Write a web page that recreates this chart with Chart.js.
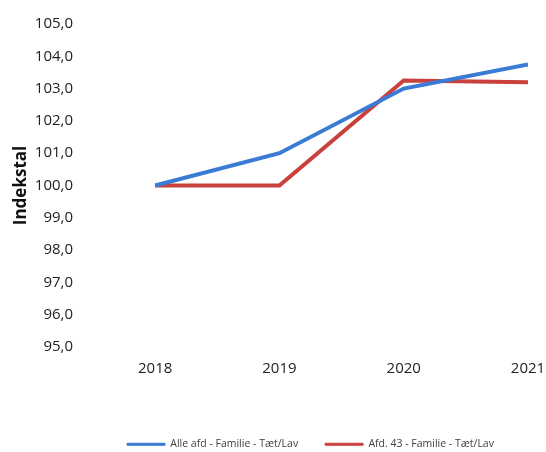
<!DOCTYPE html>
<html>
<head>
<meta charset="utf-8">
<script src="https://cdn.jsdelivr.net/npm/chart.js@4"></script>
<style>
  html, body { margin: 0; padding: 0; background: #fff; }
  #wrap { width: 546px; height: 452px; }
</style>
</head>
<body>
<div id="wrap"><canvas id="chart" width="546" height="452"></canvas></div>
<script>
// data
const years = [2018, 2019, 2020, 2021];
const alleAfd = [100.0, 101.0, 103.0, 103.75];
const afd43 = [100.0, 100.0, 103.25, 103.2];
const seriesNames = ['Alle afd - Familie - Tæt/Lav', 'Afd. 43 - Familie - Tæt/Lav'];
const yTicks = [95, 96, 97, 98, 99, 100, 101, 102, 103, 104, 105];

const blue = '#3a7bd5';
const red = '#c9403c';
const font = "'Open Sans', 'Noto Sans', sans-serif";

const toPoints = arr => arr.map((v, i) => ({ x: years[i], y: v }));

// legend keeps its wide item spacing but a shorter box
const legendHeight = {
    id: 'legendHeight',
    beforeLayout(chart) {
        const lg = chart.legend;
        if (lg && !lg._patched) {
            const fit = lg.fit;
            lg.fit = function () { fit.call(this); this.height = 40; };
            lg._patched = true;
        }
    }
};

new Chart(document.getElementById('chart'), {
    type: 'line',
    data: {
        datasets: [
            { label: seriesNames[0], data: toPoints(alleAfd), borderColor: blue, backgroundColor: blue, borderWidth: 4, pointRadius: 0, tension: 0 },
            { label: seriesNames[1], data: toPoints(afd43), borderColor: red, backgroundColor: red, borderWidth: 4, pointRadius: 0, tension: 0 }
        ]
    },
    plugins: [legendHeight],
    options: {
        responsive: false,
        animation: false,
        layout: { padding: { top: 24, right: 18, bottom: 0, left: 0 } },
        plugins: {
            tooltip: { enabled: false },
            legend: {
                position: 'bottom',
                fullSize: false,
                labels: {
                    boxWidth: 38,
                    boxHeight: 2,
                    padding: 27,
                    color: '#404040',
                    font: { family: font, size: 10.5 },
                    generateLabels: chart => Chart.defaults.plugins.legend.labels.generateLabels(chart)
                        .map(item => Object.assign(item, { lineWidth: 1 }))
                }
            }
        },
        scales: {
            x: {
                type: 'linear',
                min: 2017.5,
                max: 2021,
                afterBuildTicks: s => { s.ticks = years.map(v => ({ value: v })); },
                afterFit: s => { s.height = 65; s.paddingLeft = 0; s.paddingRight = 0; },
                grid: { display: false, drawTicks: false },
                border: { display: false },
                ticks: {
                    padding: 13,
                    color: '#222',
                    font: { family: font, size: 15 },
                    callback: v => String(v)
                }
            },
            y: {
                min: 95,
                max: 105,
                afterBuildTicks: s => { s.ticks = yTicks.map(v => ({ value: v })); },
                afterFit: s => { s.width = 93; s.paddingTop = 0; s.paddingBottom = 0; },
                grid: { display: false, drawTicks: false },
                border: { display: false },
                title: {
                    display: true,
                    text: 'Indekstal',
                    color: '#111',
                    padding: { top: 11, bottom: 0 },
                    font: { family: font, size: 17, weight: 'bold' }
                },
                ticks: {
                    padding: 20,
                    color: '#222',
                    font: { family: font, size: 15 },
                    callback: v => v.toFixed(1).replace('.', ',')
                }
            }
        }
    }
});
</script>
</body>
</html>
